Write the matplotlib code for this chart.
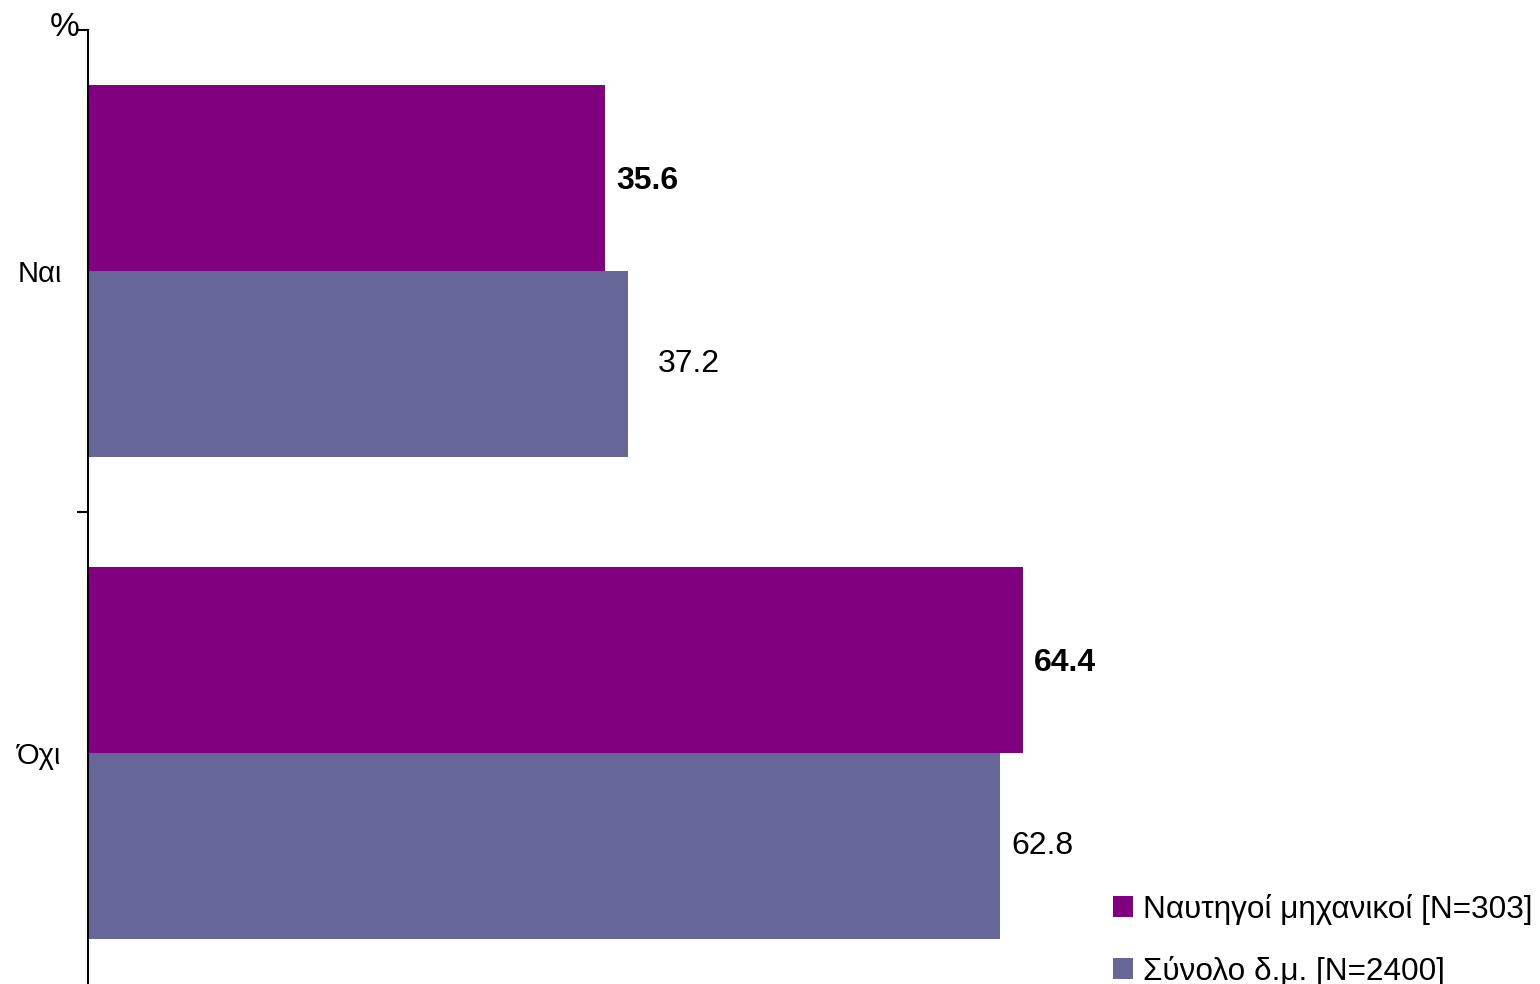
import matplotlib.pyplot as plt

# data
categories = ["Ναι", "Όχι"]
series_names = ["Ναυτηγοί μηχανικοί [N=303]", "Σύνολο δ.μ. [N=2400]"]
naftigoi = [35.6, 64.4]
synolo = [37.2, 62.8]

purple = "#800080"
slate = "#666699"

plt.rcParams['font.family'] = ['Liberation Sans', 'DejaVu Sans']

W, H = 1540, 984
fig = plt.figure(figsize=(W / 100, H / 100), dpi=100)
# axes placed in pixel terms: y axis at x=88, top at y=30, bottom below the canvas
ax = fig.add_axes([88 / W, (H - 994) / H, (W - 88) / W, 964 / H])

bar_h = 0.386
pos = list(range(len(categories)))
b1 = ax.barh([p - bar_h / 2 for p in pos], naftigoi, height=bar_h, color=purple,
             label=series_names[0])
b2 = ax.barh([p + bar_h / 2 for p in pos], synolo, height=bar_h, color=slate,
             label=series_names[1])

# value labels
label_fs = 23
for i, v in enumerate(naftigoi):
    ax.annotate(f"{v:.1f}", (v, pos[i] - bar_h / 2), xytext=(8, -2),
                textcoords="offset points", va="center", ha="left",
                fontsize=label_fs, fontweight="bold", color="black")
for i, v in enumerate(synolo):
    dx = 21 if i == 0 else 8
    ax.annotate(f"{v:.1f}", (v, pos[i] + bar_h / 2), xytext=(dx, 0),
                textcoords="offset points", va="center", ha="left",
                fontsize=label_fs, color="black")

ax.set_xlim(0, 100)
ax.set_ylim(len(categories) - 0.5, -0.5)

# category labels at centres, tick marks at the boundaries
ax.set_yticks(pos)
ax.set_yticklabels(categories, fontsize=21)
ax.tick_params(axis="y", which="major", length=0, pad=19)
ax.set_yticks([p - 0.5 for p in pos] + [len(pos) - 0.5], minor=True)
ax.tick_params(axis="y", which="minor", length=8, width=1.5, direction="out")

ax.xaxis.set_visible(False)
for s in ["top", "right", "bottom"]:
    ax.spines[s].set_visible(False)
ax.spines["left"].set_linewidth(1.5)

fig.text(50 / W, 1 - 28 / H, "%", fontsize=24, ha="left", va="center")

fig.legend(handles=[b1, b2], loc="lower left",
           bbox_to_anchor=(1085 / W, -31 / H), frameon=False,
           fontsize=22.7, handlelength=0.62, handleheight=0.65,
           handletextpad=0.31, labelspacing=0.97)

fig.savefig("out.png", dpi=100, facecolor="white")
